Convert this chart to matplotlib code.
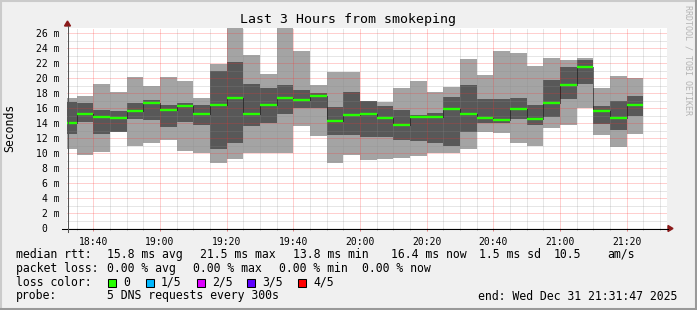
import matplotlib
matplotlib.use("Agg")
import matplotlib.pyplot as plt
import numpy as np
from matplotlib.patches import Rectangle, Polygon
from matplotlib.lines import Line2D

W, H = 697, 310
MONO = "DejaVu Sans Mono"

# ---------------- data ----------------
title = "Last 3 Hours from smokeping"
bar_end_times = ["18:35", "18:40", "18:45", "18:50", "18:55", "19:00", "19:05",
                 "19:10", "19:15", "19:20", "19:25", "19:30", "19:35", "19:40",
                 "19:45", "19:50", "19:55", "20:00", "20:05", "20:10", "20:15",
                 "20:20", "20:25", "20:30", "20:35", "20:40", "20:45", "20:50",
                 "20:55", "21:00", "21:05", "21:10", "21:15", "21:20", "21:25"]
# five sorted pings per step, in ms
rtt_max = [17.37, 17.60, 19.24, 18.17, 20.13, 18.93, 20.13, 19.60, 17.37, 21.91,
           26.70, 23.15, 20.57, 26.70, 23.68, 19.15, 20.84, 20.84, 17.01, 16.84,
           18.71, 19.68, 18.17, 18.80, 22.57, 20.48, 23.68, 23.37, 21.68, 22.71,
           22.44, 22.71, 18.71, 20.27, 20.04]
rtt_p4 = [16.84, 16.71, 15.77, 15.60, 16.71, 17.15, 16.40, 16.71, 16.40, 21.01,
          22.17, 19.24, 18.71, 19.11, 18.44, 18.04, 16.17, 18.17, 17.00, 16.31,
          15.77, 15.15, 15.37, 17.51, 19.11, 17.24, 17.24, 17.37, 16.40, 19.81,
          21.47, 22.40, 16.27, 16.93, 17.60]
rtt_median = [14.04, 15.24, 14.80, 14.67, 15.68, 16.67, 15.81, 16.27, 15.20, 16.44,
              17.37, 15.20, 16.49, 17.37, 17.07, 17.68, 14.35, 15.15, 15.24, 14.71,
              13.81, 14.88, 14.80, 15.91, 15.20, 14.71, 14.48, 15.91, 14.61, 16.71,
              19.07, 21.51, 15.68, 14.71, 16.44]
rtt_p2 = [12.57, 14.17, 12.57, 12.88, 14.61, 14.44, 13.47, 14.13, 13.81, 10.61,
          11.37, 13.68, 14.04, 15.24, 16.04, 16.04, 12.40, 12.48, 12.17, 12.17,
          11.81, 11.68, 11.37, 10.93, 12.84, 14.04, 14.04, 14.61, 13.81, 14.80,
          17.24, 19.24, 13.91, 13.15, 15.01]
rtt_min = [10.61, 9.81, 10.13, 12.85, 11.01, 11.37, 11.81, 10.27, 10.04, 8.71,
           9.28, 10.04, 10.04, 10.04, 13.68, 12.35, 8.71, 9.81, 9.15, 9.28,
           9.37, 9.64, 10.04, 10.04, 10.61, 12.84, 12.71, 11.37, 11.01, 13.37,
           13.81, 16.04, 12.48, 10.84, 12.57]
x_tick_labels = ["18:40", "19:00", "19:20", "19:40", "20:00",
                 "20:20", "20:40", "21:00", "21:20"]
y_tick_values = list(range(0, 27, 2))
window_start = "18:32:06"
window_end = "21:32:06"
y_top = 26.7

loss_labels = ["0", "1/5", "2/5", "3/5", "4/5"]
loss_colors = ["#26ff00", "#00b8ff", "#dd00ff", "#5e00ff", "#ff0000"]

legend_line1 = [("median rtt:", 16), ("15.8 ms avg", 107.3), ("21.5 ms max", 200),
                ("13.8 ms min", 293.3), ("16.4 ms now", 390.7), ("1.5 ms sd", 479.3),
                ("10.5", 553.3), ("am/s", 607.7)]
legend_line2 = [("packet loss:", 16), ("0.00 % avg", 107.3), ("0.00 % max", 193.3),
                ("0.00 % min", 279.3), ("0.00 % now", 362)]
legend_line4 = [("probe:", 16), ("5 DNS requests every 300s", 107.3),
                ("end: Wed Dec 31 21:31:47 2025", 478.3)]


def to_min(s):
    p = [float(v) for v in s.split(":")]
    return p[0] * 60 + p[1] + (p[2] / 60 if len(p) > 2 else 0)


def px(x):
    return x / W


def py(y):
    return 1 - y / H


# ---------------- figure ----------------
fig = plt.figure(figsize=(W / 100, H / 100), dpi=100)
fig.patch.set_facecolor("#f0f0f0")

ax_left, ax_right, ax_top, ax_bottom = 67, 667, 28, 228.3
ax = fig.add_axes([px(ax_left), py(ax_bottom), px(ax_right - ax_left),
                   (ax_bottom - ax_top) / H])
ax.set_facecolor("white")

ends = np.array([to_min(t) for t in bar_end_times])
edges = np.concatenate([[ends[0] - 5], ends])
mx, p4, med, p2, mn = (np.array(a) for a in (rtt_max, rtt_p4, rtt_median, rtt_p2, rtt_min))

ax.stairs(mx, edges, baseline=mn, fill=True, color="#a4a4a4", lw=0, zorder=1)
ax.stairs(p4, edges, baseline=p2, fill=True, color="#585858", lw=0, zorder=1.1)
ax.vlines(edges[1:-1], med[:-1], med[1:], colors="black",
          linestyles=(0, (1, 1)), lw=0.72, zorder=2.6)
ax.hlines(med, edges[:-1], edges[1:], colors=loss_colors[0], lw=1.7, zorder=3)

ax.set_xlim(to_min(window_start), to_min(window_end))
ax.set_ylim(0, y_top)

xt = [to_min(t) for t in x_tick_labels]
ax.set_xticks(xt)
ax.set_xticklabels(x_tick_labels, fontfamily=MONO, fontsize=7)
ax.set_xticks(np.arange(to_min("18:35"), to_min(window_end), 5), minor=True)
ax.set_yticks(y_tick_values)
ax.set_yticklabels([f"{v} m" if v else "0  " for v in y_tick_values],
                   fontfamily=MONO, fontsize=7)
ax.set_yticks(np.arange(1, 27, 1), minor=True)

for s in ax.spines.values():
    s.set_visible(False)
ax.set_axisbelow(False)
ax.grid(which="minor", color="#8c8c8c", alpha=0.42, ls=(0, (1, 1)), lw=0.72)
ax.grid(which="major", color="#ff3030", alpha=0.45, ls=(0, (1, 1)), lw=0.72)
ax.tick_params(axis="x", which="major", length=2.2, width=0.72, color="#e08080",
               pad=4, direction="out")
ax.tick_params(axis="x", which="minor", length=1.5, width=0.72, color="#b0b0b0",
               direction="out")
ax.tick_params(axis="y", which="both", length=0, pad=5.5)

# axes lines and arrows
fig.add_artist(Line2D([px(62), px(668)], [py(228.5)] * 2, color="black", lw=0.75))
fig.add_artist(Line2D([px(67.5)] * 2, [py(232), py(26)], color="#555555", lw=0.75))
fig.add_artist(Polygon([[px(668), py(225.5)], [px(668), py(231.5)], [px(673), py(228.5)]],
                       closed=True, color="#8b1a1a", transform=fig.transFigure))
fig.add_artist(Polygon([[px(64.5), py(26)], [px(70.5), py(26)], [px(67.5), py(21)]],
                       closed=True, color="#8b1a1a", transform=fig.transFigure))

# texts
fig.text(px(348), py(23.5), title, fontfamily=MONO, fontsize=9.5,
         ha="center", va="baseline")
fig.text(px(10), py(128), "Seconds", fontfamily=MONO, fontsize=8.3,
         rotation=90, ha="center", va="center")
fig.text(px(688), py(60), "RRDTOOL / TOBI OETIKER", fontfamily=MONO, fontsize=6,
         rotation=270, ha="center", va="center", color="#b4b4b4")

for items, yb in ((legend_line1, 257.7), (legend_line2, 271.7), (legend_line4, 299.5)):
    for txt, x in items:
        fig.text(px(x), py(yb), txt, fontfamily=MONO, fontsize=8.3,
                 ha="left", va="baseline")

fig.text(px(16), py(285.7), "loss color:", fontfamily=MONO, fontsize=8.3,
         ha="left", va="baseline")
box_x = [108.3, 145.7, 196.7, 247.3, 298.3]
for bx, lab, col in zip(box_x, loss_labels, loss_colors):
    fig.add_artist(Rectangle((px(bx), py(286.7)), 8 / W, 8 / H, facecolor=col,
                             edgecolor="black", lw=0.75, transform=fig.transFigure))
    fig.text(px(bx + 15), py(285.7), lab, fontfamily=MONO, fontsize=8.3,
             ha="left", va="baseline")

# frame
fig.add_artist(Line2D([0, 1], [py(1)] * 2, color="#cbcbcb", lw=1.5))
fig.add_artist(Line2D([px(1)] * 2, [0, 1], color="#cbcbcb", lw=1.5))
fig.add_artist(Line2D([0, 1], [py(308.5)] * 2, color="#999999", lw=2.2))
fig.add_artist(Line2D([px(696)] * 2, [0, 1], color="#999999", lw=1.5))

fig.savefig("out.png", dpi=100, facecolor=fig.get_facecolor())
